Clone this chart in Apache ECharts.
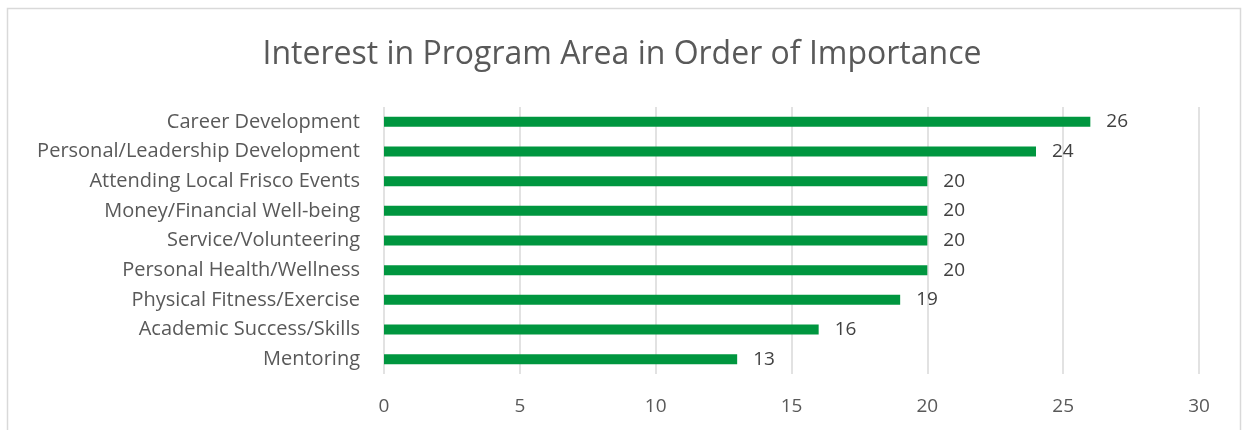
<!DOCTYPE html>
<html>
<head>
<meta charset="utf-8">
<script src="https://cdn.jsdelivr.net/npm/echarts@6/dist/echarts.min.js"></script>
<style>
html,body{margin:0;padding:0;background:#fff;}
#main{width:1244px;height:430px;}
</style>
</head>
<body>
<div id="main"></div>
<script>
// data, top to bottom as in the picture
var categories = ['Career Development', 'Personal/Leadership Development', 'Attending Local Frisco Events',
    'Money/Financial Well-being', 'Service/Volunteering', 'Personal Health/Wellness',
    'Physical Fitness/Exercise', 'Academic Success/Skills', 'Mentoring'];
var counts = [26, 24, 20, 20, 20, 20, 19, 16, 13];
var xTicks = [0, 5, 10, 15, 20, 25, 30];

var font = '"Open Sans", sans-serif';
var myChart = echarts.init(document.getElementById('main'));

var option = {
    animation: false,
    title: {
        text: 'Interest in Program Area in Order of Importance',
        left: 'center',
        top: 34,
        textStyle: { fontFamily: font, fontSize: 32, fontWeight: 'normal', color: '#595959' }
    },
    graphic: [{
        type: 'rect',
        shape: { x: 7.5, y: 8.5, width: 1233, height: 440 },
        style: { fill: 'none', stroke: '#d9d9d9', lineWidth: 1.5 },
        silent: true
    }],
    grid: { left: 384, right: 45, top: 107, bottom: 56 },
    xAxis: {
        type: 'value',
        min: xTicks[0],
        max: xTicks[xTicks.length - 1],
        interval: 5,
        axisLine: { show: false },
        axisTick: { show: false },
        splitLine: { lineStyle: { color: '#d9d9d9', width: 1.5 } },
        axisLabel: { fontFamily: font, fontSize: 19, color: '#595959', margin: 23 }
    },
    yAxis: {
        type: 'category',
        inverse: true,
        data: categories,
        axisLine: { show: false },
        axisTick: { show: false },
        axisLabel: { fontFamily: font, fontSize: 20, color: '#595959', margin: 24, padding: [3, 0, 0, 0] }
    },
    series: [{
        type: 'bar',
        data: counts,
        barWidth: 10,
        itemStyle: { color: '#00963f' },
        label: {
            show: true,
            position: 'right',
            distance: 16,
            fontFamily: font,
            fontSize: 19,
            color: '#404040',
            padding: [4, 0, 0, 0]
        }
    }]
};
myChart.setOption(option);
</script>
</body>
</html>
